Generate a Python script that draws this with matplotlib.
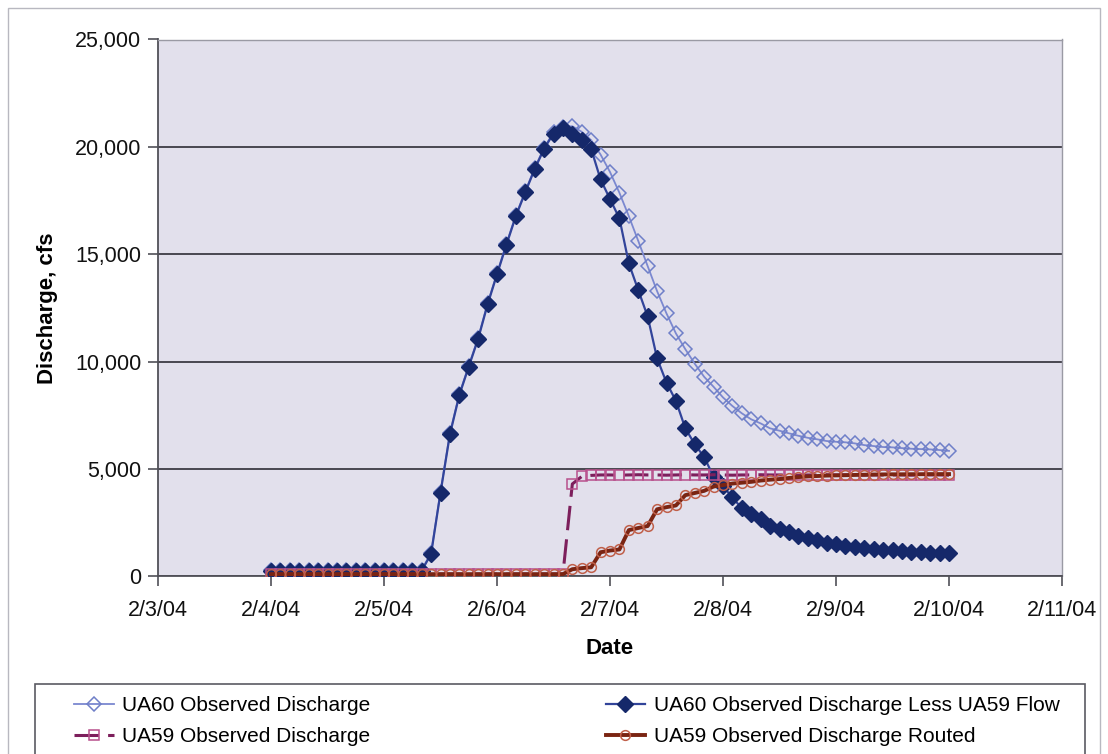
import datetime as dt
import matplotlib
matplotlib.use("Agg")
import matplotlib.pyplot as plt
import matplotlib.dates as mdates
from matplotlib.patches import Rectangle
from matplotlib.ticker import FuncFormatter, MultipleLocator

plt.rcParams['font.family'] = ['Liberation Sans', 'DejaVu Sans']

# 2-hourly readings, 2/4/04 00:00 through 2/10/04 00:00
start = dt.datetime(2004, 2, 4)
times = [start + dt.timedelta(hours=2 * k) for k in range(73)]

ua60_observed = [
    290, 290, 280, 280, 290, 290, 280, 280, 280, 290, 290, 280, 280, 280, 280, 290, 300,
    1090, 3940, 6660, 8490, 9810, 11110, 12710, 14110, 15490, 16820, 17930, 19010, 19960,
    20680, 20940, 20960, 20700, 20310, 19640, 18830, 17860, 16770, 15620, 14445, 13280,
    12240, 11310, 10575, 9900, 9290, 8825, 8330, 7930, 7590, 7310, 7120, 6890, 6780,
    6660, 6545, 6450, 6380, 6300, 6265, 6240, 6190, 6110, 6065, 6020, 6005, 5970, 5940,
    5925, 5910, 5880, 5840,
]

ua60_less_ua59 = [
    250, 250, 240, 240, 250, 250, 240, 240, 240, 250, 250, 240, 240, 240, 240, 250, 260,
    1040, 3890, 6610, 8440, 9760, 11060, 12660, 14060, 15440, 16770, 17880, 18960, 19910,
    20620, 20870, 20580, 20320, 19900, 18480, 17570, 16670, 14570, 13330, 12100, 10150,
    9020, 8170, 6890, 6150, 5550, 4640, 4190, 3675, 3165, 2900, 2650, 2340, 2190,
    2080, 1875, 1770, 1690, 1535, 1500, 1410, 1380, 1300, 1285, 1225, 1220, 1180, 1145,
    1115, 1100, 1075, 1070,
]

ua59_observed = [
    100, 100, 100, 100, 100, 100, 100, 100, 100, 100, 100, 100, 100, 100, 100, 100, 100,
    100, 100, 100, 100, 100, 100, 100, 100, 100, 100, 100, 100, 100, 100, 100,
    4300, 4650, 4700, 4720, 4720, 4710, 4720, 4730, 4720, 4720, 4710, 4720, 4730, 4720,
    4720, 4730, 4720, 4710, 4720, 4720, 4730, 4720, 4720, 4720, 4710, 4720, 4720, 4730,
    4720, 4720, 4720, 4710, 4720, 4720, 4720, 4720, 4710, 4720, 4720, 4720, 4710,
]

ua59_routed = [
    100, 100, 100, 100, 100, 100, 100, 100, 100, 100, 100, 100, 100, 100, 100, 100, 100,
    100, 100, 100, 100, 100, 100, 100, 100, 100, 100, 100, 100, 100, 100, 100,
    330, 380, 420, 1120, 1200, 1250, 2150, 2250, 2340, 3120, 3220, 3300, 3780, 3880,
    3980, 4180, 4250, 4320, 4360, 4400, 4460, 4500, 4530, 4580, 4620, 4650, 4670, 4690,
    4700, 4710, 4720, 4730, 4740, 4745, 4750, 4750, 4755, 4755, 4760, 4760, 4760,
]

labels = [
    "UA60 Observed Discharge",
    "UA60 Observed Discharge Less UA59 Flow",
    "UA59 Observed Discharge",
    "UA59 Observed Discharge Routed",
]

fig = plt.figure(figsize=(11.08, 7.54), dpi=100)
fig.patch.set_facecolor('white')

# chart-area border
fig.patches.append(Rectangle((8 / 1108, -0.01), 1092 / 1108, 1 - 8 / 754 + 0.01,
                             transform=fig.transFigure, fill=False,
                             edgecolor='#b8b8c0', linewidth=1.0))

ax = fig.add_axes([158 / 1108, 1 - 576.3 / 754, 904 / 1108, (576.3 - 39.5) / 754])
ax.set_facecolor('#e2e0ec')

s1, = ax.plot(times, ua60_observed, color='#7b88d0', lw=1.3, marker='D', ms=7,
              mfc='none', mec='#6f7fc8', mew=1.1, zorder=3)
s2, = ax.plot(times, ua60_less_ua59, color='#32449a', lw=1.6, marker='D', ms=7.8,
              mfc='#15286a', mec='#15286a', zorder=4)
s3, = ax.plot(times, ua59_observed, color='#7d1f5c', lw=2.2, ls=(0, (8, 3)),
              marker='s', ms=6.5, mfc='none', mec='#b8508c', mew=1.1, zorder=5)
s4, = ax.plot(times, ua59_routed, color='#7a2412', lw=2.8, marker='o', ms=7,
              mfc='none', mec='#c0604a', mew=1.1, zorder=6)

ax.set_xlim(dt.datetime(2004, 2, 3), dt.datetime(2004, 2, 11))
ax.set_ylim(0, 25000)
ax.yaxis.set_major_locator(MultipleLocator(5000))
ax.yaxis.set_major_formatter(FuncFormatter(lambda v, p: f"{int(v):,}"))
ax.xaxis.set_major_locator(mdates.DayLocator())
ax.xaxis.set_major_formatter(
    FuncFormatter(lambda v, p: (lambda d: f"{d.month}/{d.day}/{d:%y}")(mdates.num2date(v))))

ax.grid(axis='y', color='#3c3c44', lw=1.3)
ax.set_axisbelow(True)
for side in ('left', 'bottom'):
    ax.spines[side].set_color('#505058')
    ax.spines[side].set_linewidth(1.3)
for side in ('top', 'right'):
    ax.spines[side].set_color('#9a9aa4')
    ax.spines[side].set_linewidth(1.0)

ax.tick_params(axis='both', direction='out', length=7, width=1.2, color='#505058',
               labelsize=15.5, labelcolor='#111111')
ax.tick_params(axis='y', pad=5)
ax.tick_params(axis='x', pad=10)

ax.set_ylabel("Discharge, cfs", fontsize=16, fontweight='bold', labelpad=12)
ax.set_xlabel("Date", fontsize=16, fontweight='bold', labelpad=12)

# legend box, running past the lower edge of the figure
fig.patches.append(Rectangle((35 / 1108, -0.02), 1050 / 1108, (754 - 684) / 754 + 0.02,
                             transform=fig.transFigure, fill=False,
                             edgecolor='#5a5a62', linewidth=1.2))
fig.legend([s1, s3, s2, s4], [labels[0], labels[2], labels[1], labels[3]],
           ncol=2, loc='upper left', bbox_to_anchor=(74 / 1108, 1 - 696 / 754),
           frameon=False, fontsize=15, handlelength=1.9, handletextpad=0.4,
           columnspacing=11.3, labelspacing=0.6, numpoints=1,
           borderaxespad=0, borderpad=0)

fig.savefig("out.png", dpi=100)
